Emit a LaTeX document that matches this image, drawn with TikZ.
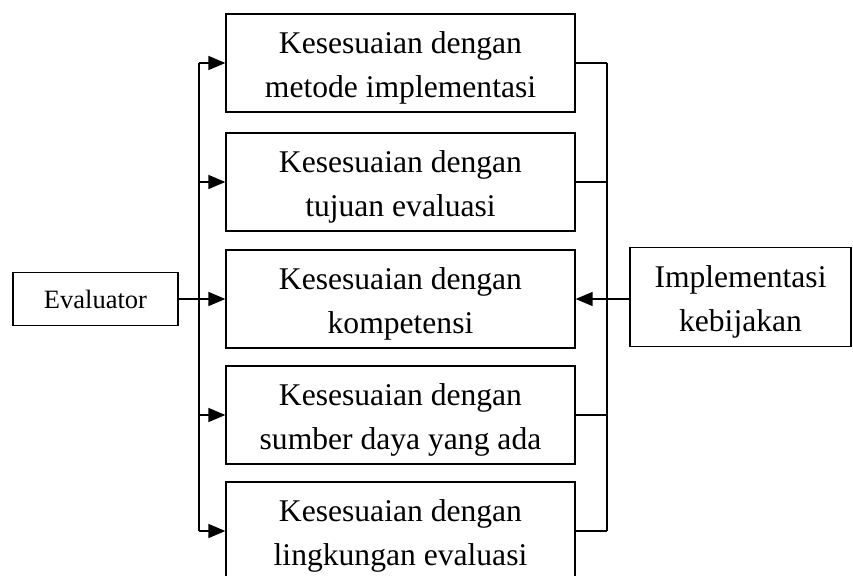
\documentclass[tikz,border=0pt]{standalone}
\usepackage{fontspec}
\setmainfont{Liberation Serif}
\usetikzlibrary{arrows.meta}

% tinggi baris pertama, supaya teks turun sedikit
\newcommand{\barisatas}{\rule{0pt}{32pt}}

\tikzset{
  kotak/.style={draw,line width=1.3pt,inner sep=0pt,align=center,
    minimum width=349pt,minimum height=98pt,font=\fontsize{31.6}{44}\selectfont},
  garis/.style={line width=1.5pt},
  panah/.style={garis,-{Triangle[length=17pt,width=14pt]}}
}

\begin{document}
\begin{tikzpicture}[x=1pt,y=-1pt]
    \useasboundingbox (0,0) rectangle (853,575);

    \coordinate (L) at (199,0);
    \coordinate (R) at (607,0);

    \node[kotak] (m1) at (400.5,63)  {\barisatas Kesesuaian dengan\\metode implementasi};
    \node[kotak] (m2) at (400.5,182) {\barisatas Kesesuaian dengan\\tujuan evaluasi};
    \node[kotak] (m3) at (400.5,299) {\barisatas Kesesuaian dengan\\kompetensi};
    \node[kotak] (m4) at (400.5,415) {\barisatas Kesesuaian dengan\\sumber daya yang ada};
    \node[kotak] (m5) at (400.5,531) {\barisatas Kesesuaian dengan\\lingkungan evaluasi};

    \node[kotak,minimum width=165pt,minimum height=53pt,font=\fontsize{26.5}{32}\selectfont]
        (eval) at (95.5,299) {Evaluator};
    \node[kotak,minimum width=221pt,minimum height=99pt] (impl) at (740.5,297)
        {\barisatas Implementasi\\kebijakan};

    % jalur kiri
    \draw[garis] (L |- m1.west) -- (L |- m5.west);
    \foreach \m in {m1,m2,m4,m5}
        \draw[panah] (L |- \m.west) -- (\m.west);
    \draw[panah] (eval.east) -- (m3.west);

    % jalur kanan
    \draw[garis] (R |- m1.east) -- (R |- m5.east);
    \foreach \m in {m1,m2,m4,m5}
        \draw[garis] (\m.east) -- (R |- \m.east);
    \draw[panah] (impl.west |- m3.east) -- (m3.east);
\end{tikzpicture}
\end{document}
